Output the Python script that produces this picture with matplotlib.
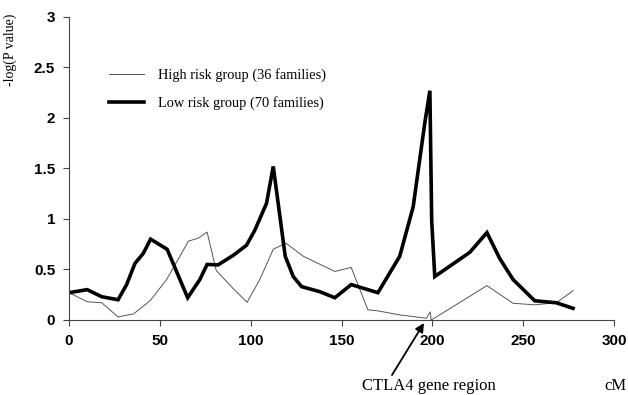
import matplotlib
matplotlib.use('Agg')
import matplotlib.pyplot as plt

# position in cM and -log(P) for each group
cm_low = [0, 10, 18, 27, 31.7, 36.3, 40.9, 44.9, 54, 62, 65.3, 72, 76, 82, 90.4, 97.7,
          102.3, 108.7, 112.4, 119, 123.4, 128, 138, 146.3, 155.3, 170, 182, 189.4,
          195.8, 198.6, 199.6, 201.3, 220.6, 230, 237, 244.4, 256.3, 268.2, 277.4]
p_low = [0.27, 0.30, 0.23, 0.20, 0.35, 0.56, 0.66, 0.80, 0.70, 0.36, 0.22, 0.40, 0.55,
         0.545, 0.64, 0.74, 0.89, 1.155, 1.52, 0.63, 0.43, 0.33, 0.28, 0.22, 0.35, 0.27,
         0.63, 1.12, 1.95, 2.27, 0.98, 0.43, 0.67, 0.865, 0.61, 0.40, 0.19, 0.17, 0.115]

cm_high = [0, 10, 18, 27, 35.5, 44.6, 53.7, 61, 65.7, 71.1, 76, 81, 90.4, 98, 105,
           112.4, 119.4, 129, 146.3, 155.3, 164.5, 170, 182, 196.7, 198.8, 199.3, 201.3,
           230, 244.4, 256.3, 268.2, 277.4]
p_high = [0.27, 0.18, 0.17, 0.03, 0.06, 0.19, 0.40, 0.63, 0.78, 0.81, 0.87, 0.49, 0.31,
          0.175, 0.40, 0.70, 0.76, 0.63, 0.48, 0.52, 0.10, 0.09, 0.05, 0.017, 0.08, 0.0, 0.02,
          0.34, 0.165, 0.15, 0.17, 0.29]

x_ticks = [0, 50, 100, 150, 200, 250, 300]
y_ticks = [0, 0.5, 1, 1.5, 2, 2.5, 3]
y_tick_labels = ['0', '0.5', '1', '1.5', '2', '2.5', '3']

serif = 'Liberation Serif'
sans = 'Liberation Sans'

fig = plt.figure(figsize=(6.28, 3.95), dpi=100)
ax = fig.add_axes([0.1099, 0.19, 0.868, 0.767])

ax.plot(cm_high, p_high, color='#555555', lw=0.7, label='High risk group (36 families)')
ax.plot(cm_low, p_low, color='black', lw=2.6, solid_joinstyle='miter',
        label='Low risk group (70 families)')

ax.set_xlim(0, 300)
ax.set_ylim(0, 3)
ax.set_xticks(x_ticks)
ax.set_yticks(y_ticks)
ax.set_yticklabels(y_tick_labels)
for lab in ax.get_xticklabels() + ax.get_yticklabels():
    lab.set_fontfamily(sans)
    lab.set_fontsize(11)
    lab.set_fontweight('bold')
ax.tick_params(direction='out', length=4, width=0.8, color='#444444', pad=6)
ax.spines['top'].set_visible(False)
ax.spines['right'].set_visible(False)
ax.spines['left'].set_color('#444444')
ax.spines['bottom'].set_color('#444444')
ax.spines['left'].set_linewidth(0.8)
ax.spines['bottom'].set_linewidth(0.8)

ax.set_ylabel('-log(P value)', fontfamily=serif, fontsize=10)
ax.yaxis.set_label_coords(-0.095, 0.89)

leg = ax.legend(loc='upper left', bbox_to_anchor=(0.05, 0.875), frameon=False,
                prop={'family': serif, 'size': 10.4}, handlelength=2.4,
                labelspacing=1.0, handletextpad=1.0)

# arrow pointing at the CTLA4 region (figure pixels, origin bottom-left)
ax.annotate('', xy=(424, 72), xycoords='figure pixels',
            xytext=(392, 20), textcoords='figure pixels',
            arrowprops=dict(arrowstyle='-|>', color='black', lw=1.3,
                            shrinkA=0, shrinkB=0, mutation_scale=13))
fig.text(362 / 628, 1 - 390 / 395, 'CTLA4 gene region', fontfamily=serif,
         fontsize=12, ha='left', va='baseline')
fig.text(615 / 628, 1 - 390 / 395, 'cM', fontfamily=serif, fontsize=12,
         ha='center', va='baseline')

fig.savefig('out.png', dpi=100)
